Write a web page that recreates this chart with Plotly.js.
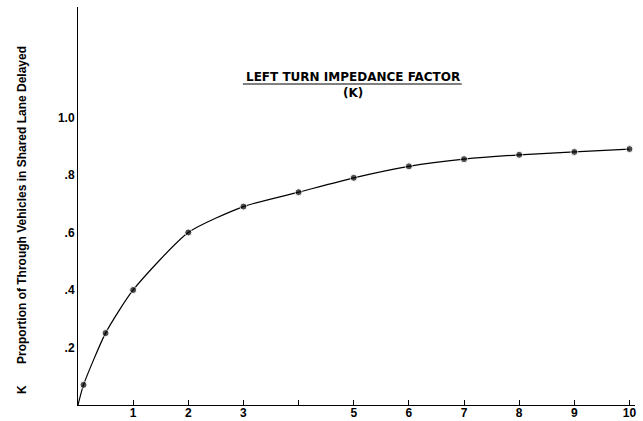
<!DOCTYPE html>
<html>
<head>
<meta charset="utf-8">
<script src="https://cdn.plot.ly/plotly-3.0.1.min.js"></script>
<style>html,body{margin:0;padding:0;background:#fff;}#chart{width:643px;height:421px;}</style>
</head>
<body>
<div id="chart"></div>
<script>
// Data
const xValues = [0, 0.1, 0.5, 1, 2, 3, 4, 5, 6, 7, 8, 9, 10];
const kValues = [0, 0.07, 0.25, 0.40, 0.60, 0.69, 0.74, 0.79, 0.83, 0.855, 0.87, 0.88, 0.89];
const markerShown = [false, true, true, true, true, true, true, true, true, true, true, true, true];
const xTickVals = [1, 2, 3, 4, 5, 6, 7, 8, 9, 10];
const xTickText = ['1', '2', '3', '', '5', '6', '7', '8', '9', '10'];
const yTickVals = [0.2, 0.4, 0.6, 0.8, 1.0];
const yTickText = ['.2', '.4', '.6', '.8', '1.0'];
const titleText = 'LEFT TURN IMPEDANCE FACTOR<br>(K)';
const yTitleText = 'Proportion of Through Vehicles in Shared Lane Delayed';
const yTitleSymbol = 'K';

const font = 'Liberation Sans, Arial, Helvetica, sans-serif';

const trace = {
  x: xValues,
  y: kValues,
  mode: 'lines+markers',
  line: {color: '#000', width: 1.2, shape: 'spline', smoothing: 0.6},
  marker: {color: '#000', size: markerShown.map(s => s ? 7 : 0)},
  hoverinfo: 'skip',
  showlegend: false
};

const layout = {
  width: 643,
  height: 421,
  margin: {l: 78, r: 8, t: 7, b: 16},
  paper_bgcolor: '#fff',
  plot_bgcolor: '#fff',
  font: {family: font, color: '#000', size: 12},
  xaxis: {
    range: [0, 10.1],
    showgrid: false,
    zeroline: false,
    showline: true,
    linecolor: '#000',
    linewidth: 1,
    ticks: 'inside',
    ticklen: 5,
    tickwidth: 1,
    tickcolor: '#000',
    tickvals: xTickVals,
    ticktext: xTickText,
    ticklabelstandoff: -3,
    tickfont: {family: font, size: 12, weight: 'bold', color: '#000'},
    automargin: false
  },
  yaxis: {
    range: [0, 1.384],
    showgrid: false,
    zeroline: false,
    showline: true,
    linecolor: '#000',
    linewidth: 1,
    ticks: '',
    tickvals: yTickVals,
    ticktext: yTickText,
    tickfont: {family: font, size: 12, weight: 'bold', color: '#000'},
    automargin: false
  },
  annotations: [
    {
      xref: 'paper', yref: 'paper', x: 0.493, y: 0.804,
      xanchor: 'center', yanchor: 'middle',
      text: titleText, showarrow: false,
      font: {family: 'DejaVu Sans, sans-serif', size: 12, weight: 'bold', color: '#000'}
    },
    {
      xref: 'paper', yref: 'paper', x: -0.1005, y: 0.5025,
      xanchor: 'center', yanchor: 'middle', textangle: -90,
      text: yTitleText, showarrow: false,
      font: {family: font, size: 12, weight: 'bold', color: '#000'}
    },
    {
      xref: 'paper', yref: 'paper', x: -0.1005, y: 0.038,
      xanchor: 'center', yanchor: 'middle', textangle: -90,
      text: yTitleSymbol, showarrow: false,
      font: {family: font, size: 12, weight: 'bold', color: '#000'}
    }
  ],
  shapes: [
    {type: 'line', xref: 'paper', yref: 'paper', x0: 0.296, x1: 0.689, y0: 0.8065, y1: 0.8065,
     line: {color: '#000', width: 1}}
  ]
};

Plotly.newPlot('chart', [trace], layout, {displayModeBar: false, staticPlot: true});
</script>
</body>
</html>
